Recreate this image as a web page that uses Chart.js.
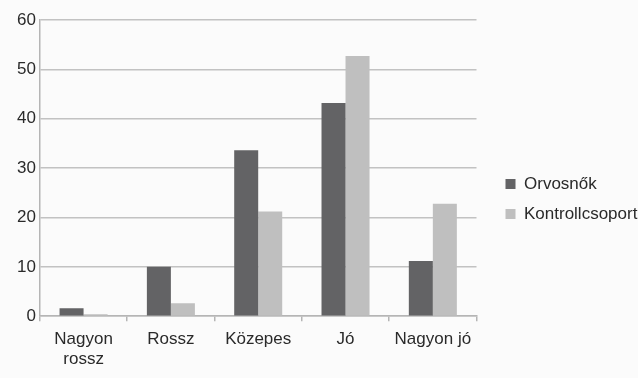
<!DOCTYPE html>
<html>
<head>
<meta charset="utf-8">
<script src="https://cdn.jsdelivr.net/npm/chart.js@4/dist/chart.umd.min.js"></script>
<style>
  html, body { margin: 0; padding: 0; background: #fbfbfb; }
  #wrap { width: 638px; height: 378px; }
</style>
</head>
<body>
<div id="wrap"><canvas id="chart" width="638" height="378"></canvas></div>
<script>
// categories on the x axis
const categories = [['Nagyon', 'rossz'], 'Rossz', 'Közepes', 'Jó', 'Nagyon jó'];
// series values
const orvosnok = [1.6, 10, 33.6, 43.2, 11.2];
const kontroll = [0.4, 2.6, 21.2, 52.7, 22.8];
const seriesNames = ['Orvosnők', 'Kontrollcsoport'];
const yTicks = [0, 10, 20, 30, 40, 50, 60];

const FONT = { family: 'Liberation Sans, Arial, sans-serif', size: 17 };
const ctx = document.getElementById('chart');

const chart = new Chart(ctx, {
    type: 'bar',
    data: {
        labels: categories,
        datasets: [
            {
                label: seriesNames[0],
                data: orvosnok,
                backgroundColor: '#636365',
                barPercentage: 1.0,
                categoryPercentage: 0.55,
            },
            {
                label: seriesNames[1],
                data: kontroll,
                backgroundColor: '#bfbfbf',
                barPercentage: 1.0,
                categoryPercentage: 0.55,
            },
        ],
    },
    options: {
        responsive: false,
        animation: false,
        layout: {
            padding: { top: 20, left: 13, right: 7, bottom: 0 },
        },
        plugins: {
            tooltip: { enabled: false },
            legend: {
                position: 'right',
                align: 'center',
                labels: {
                    boxWidth: 10,
                    boxHeight: 10,
                    padding: 13,
                    color: '#2a2a2a',
                    font: FONT,
                },
            },
        },
        scales: {
            x: {
                grid: {
                    offset: true,
                    drawOnChartArea: false,
                    drawTicks: true,
                    tickLength: 5,
                    color: '#b5b5b5',
                    lineWidth: 1.5,
                },
                border: { color: '#b5b5b5', width: 1.5 },
                ticks: {
                    color: '#2a2a2a',
                    padding: 8,
                    maxRotation: 0,
                    font: FONT,
                },
            },
            y: {
                min: 0,
                max: 60,
                afterBuildTicks: (axis) => {
                    axis.ticks = yTicks.map((v) => ({ value: v }));
                },
                grid: {
                    drawTicks: false,
                    color: '#c2c2c2',
                    lineWidth: 1.5,
                },
                border: { color: '#b5b5b5', width: 1.5 },
                ticks: {
                    color: '#2a2a2a',
                    padding: 4,
                    font: FONT,
                },
            },
        },
    },
});

// push the legend a bit further right, away from the plot
const legendDraw = chart.legend.draw;
chart.legend.draw = function (area) {
    const c = this.ctx;
    c.save();
    c.translate(16, 0);
    legendDraw.call(this, area);
    c.restore();
};
chart.draw();
</script>
</body>
</html>
